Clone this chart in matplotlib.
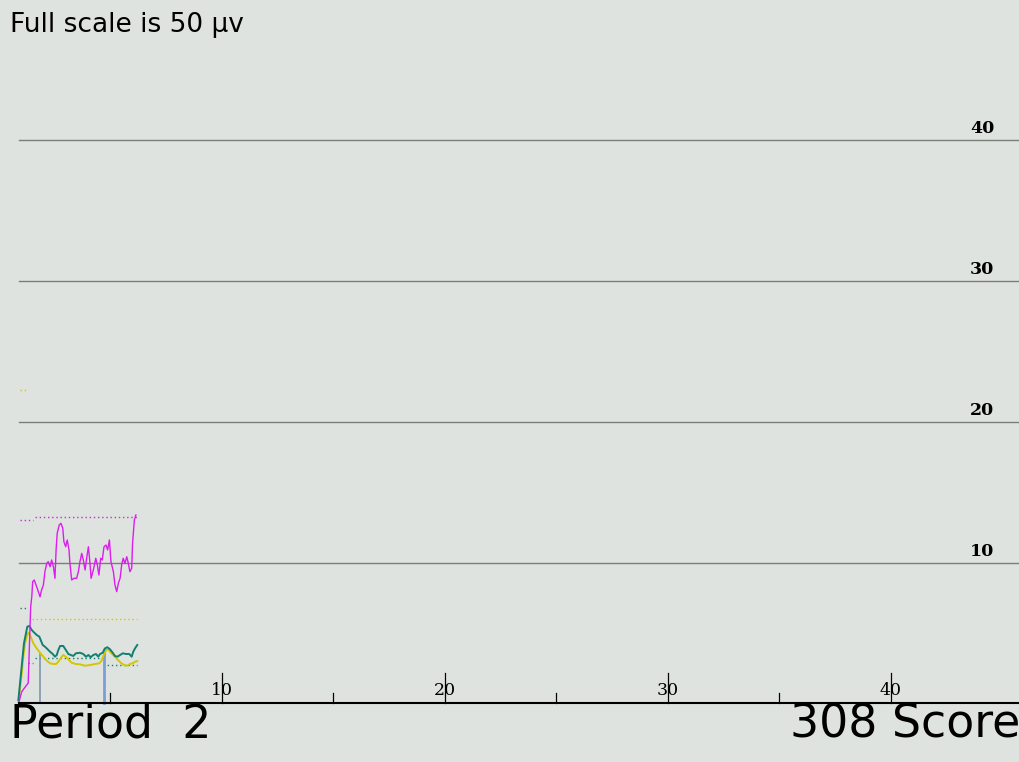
import matplotlib
matplotlib.use("Agg")
import matplotlib.pyplot as plt

# trace samples (x in scale units, y in microvolts)
magenta_x = [0.90, 1.02, 1.24, 1.31, 1.42, 1.47, 1.51, 1.58, 1.69, 1.84, 1.91, 1.99, 2.06, 2.14,
             2.21, 2.29, 2.36, 2.44, 2.51, 2.56, 2.61, 2.70, 2.78, 2.86, 2.91, 2.99, 3.06, 3.14,
             3.18, 3.26, 3.36, 3.48, 3.56, 3.63, 3.71, 3.78, 3.86, 3.93, 4.01, 4.08, 4.13, 4.23,
             4.34, 4.41, 4.48, 4.56, 4.63, 4.71, 4.80, 4.87, 4.95, 5.02, 5.13, 5.20, 5.28, 5.35,
             5.43, 5.50, 5.57, 5.65, 5.73, 5.80, 5.87, 5.95, 5.99, 6.07, 6.14]
magenta_y = [0.13, 0.84, 1.31, 1.45, 6.84, 7.57, 8.64, 8.76, 8.28, 7.57, 8.05, 8.40, 9.35, 9.94,
             10.06, 9.70, 10.18, 9.70, 8.88, 10.89, 12.07, 12.66, 12.78, 12.43, 11.48, 11.12, 11.60, 10.89,
             9.94, 8.76, 8.88, 8.88, 9.35, 10.06, 10.65, 10.18, 9.47, 10.30, 11.12, 9.94, 8.88, 9.47,
             10.30, 9.82, 9.11, 10.30, 10.18, 11.12, 11.24, 10.89, 11.60, 10.06, 9.35, 8.40, 7.93, 8.52,
             8.88, 9.82, 10.30, 9.94, 10.41, 9.94, 9.35, 9.59, 11.36, 13.01, 13.37]

teal_x = [0.87, 1.06, 1.12, 1.21, 1.27, 1.36, 1.47, 1.54, 1.69, 1.81, 1.87, 1.96, 2.06, 2.14,
          2.29, 2.41, 2.51, 2.59, 2.66, 2.74, 2.88, 3.00, 3.11, 3.22, 3.33, 3.45, 3.63, 3.78,
          3.90, 4.01, 4.11, 4.23, 4.35, 4.45, 4.53, 4.65, 4.75, 4.86, 4.98, 5.10, 5.20, 5.31,
          5.43, 5.55, 5.70, 5.84, 5.95, 6.02, 6.10, 6.20]
teal_y = [0.25, 3.32, 4.27, 4.98, 5.45, 5.50, 5.21, 5.09, 4.86, 4.74, 4.50, 4.15, 4.03, 3.91,
          3.67, 3.51, 3.32, 3.44, 3.79, 4.08, 4.08, 3.79, 3.51, 3.44, 3.37, 3.56, 3.60, 3.51,
          3.32, 3.44, 3.28, 3.44, 3.51, 3.32, 3.51, 3.60, 3.91, 3.99, 3.84, 3.60, 3.37, 3.32,
          3.44, 3.56, 3.51, 3.51, 3.32, 3.67, 3.91, 4.15]

yellow_x = [0.87, 0.94, 1.02, 1.09, 1.17, 1.24, 1.31, 1.39, 1.47, 1.54, 1.69, 1.84, 1.99, 2.14,
            2.29, 2.44, 2.56, 2.66, 2.77, 2.88, 3.00, 3.11, 3.26, 3.45, 3.63, 3.86, 4.08, 4.30,
            4.50, 4.60, 4.71, 4.80, 4.90, 5.02, 5.16, 5.31, 5.46, 5.61, 5.75, 5.87, 5.99, 6.10, 6.20]
yellow_y = [0.13, 1.08, 2.14, 3.32, 4.27, 4.74, 5.02, 4.86, 4.55, 4.27, 3.91, 3.60, 3.32, 3.04,
            2.85, 2.80, 2.80, 2.96, 3.21, 3.44, 3.32, 3.13, 2.89, 2.80, 2.78, 2.68, 2.73, 2.80,
            2.85, 3.04, 3.51, 3.79, 3.84, 3.60, 3.37, 3.13, 2.89, 2.73, 2.68, 2.80, 2.85, 2.96, 3.01]

# dotted threshold segments: (y, x_start, x_end)
magenta_refs = [(13.01, 0.94, 1.54), (13.21, 1.61, 6.18)]
teal_refs = [(6.75, 0.94, 1.26), (2.85, 1.30, 1.52), (3.21, 1.61, 4.53), (2.73, 4.66, 6.18)]
yellow_refs = [(22.23, 0.94, 1.26), (5.99, 1.48, 6.18)]

# vertical markers: (x, top)
markers = [(1.85, 3.58), (4.70, 3.79)]

grid_levels = [10, 20, 30, 40]
major_ticks = [10, 20, 30, 40]
minor_ticks = [5, 15, 25, 35]

BG = "#dfe3df"
MAGENTA = "#dd1cf0"
TEAL = "#137f70"
YELLOW = "#d2c800"

fig = plt.figure(figsize=(10.19, 7.62), dpi=100, facecolor=BG)
ax = fig.add_axes([0, 0, 1, 1])
ax.set_facecolor(BG)
ax.set_xlim(0.045, 45.74)
ax.set_ylim(-4.15, 49.9)
ax.axis("off")

x0 = 0.90
for g in grid_levels:
    ax.plot([x0, 45.74], [g, g], color="#7a7f7a", lw=1.0)
    ax.text(44.1, g + 0.2, str(g), family="DejaVu Serif", fontsize=12.5,
            fontweight="bold", ha="center", va="bottom", color="black")

ax.plot([x0, 45.74], [0, 0], color="black", lw=1.5, zorder=5)
for t in major_ticks:
    ax.plot([t, t], [0, 2.16], color="black", lw=0.9, zorder=5)
    ax.text(t, 0.3, str(t), family="DejaVu Serif", fontsize=12.5,
            ha="center", va="bottom", color="black")
for t in minor_ticks:
    ax.plot([t, t], [0, 0.74], color="black", lw=0.9, zorder=5)

for y, xa, xb in magenta_refs:
    ax.plot([xa, xb], [y, y], color=MAGENTA, lw=1.0, ls=(0, (1, 2)))
for y, xa, xb in teal_refs:
    ax.plot([xa, xb], [y, y], color=TEAL, lw=1.0, ls=(0, (1, 2)))
for y, xa, xb in yellow_refs:
    ax.plot([xa, xb], [y, y], color=YELLOW, lw=1.0, ls=(0, (1, 2)))

ax.plot([markers[0][0]] * 2, [0, markers[0][1]], color="#7f97b0", lw=1.2)
ax.plot([markers[1][0]] * 2, [0, markers[1][1]], color="#7a9fd8", lw=2.0)

ax.plot(yellow_x, yellow_y, color=YELLOW, lw=1.4)
ax.plot(teal_x, teal_y, color=TEAL, lw=1.4)
ax.plot(magenta_x, magenta_y, color=MAGENTA, lw=1.0)

fig.text(10 / 1019, 1 - 32 / 762, "Full scale is 50 µv", fontsize=19,
         ha="left", va="baseline", color="black")
fig.text(10 / 1019, 1 - 737 / 762, "Period  2", fontsize=33,
         ha="left", va="baseline", color="black")
fig.text(790 / 1019, 1 - 737 / 762, "308 Score", fontsize=33,
         ha="left", va="baseline", color="black")

fig.savefig("out.png", dpi=100, facecolor=BG)
